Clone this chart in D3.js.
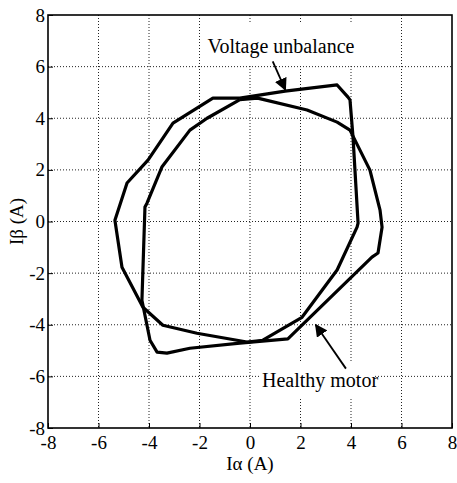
<!DOCTYPE html>
<html>
<head>
<meta charset="utf-8">
<script src="https://cdn.jsdelivr.net/npm/d3@7"></script>
<style>
  body { margin: 0; background: #fff; }
</style>
</head>
<body>
<script>
const width = 457;
const height = 483;
const serif = '"Liberation Serif", "Times New Roman", serif';

// ticks
const xTicks = [-8, -6, -4, -2, 0, 2, 4, 6, 8];
const yTicks = [-8, -6, -4, -2, 0, 2, 4, 6, 8];

// healthy motor trajectory (I alpha, I beta)
const healthyA = [-0.4, 0.3, 2.26, 3.45, 3.96, 4.75, 5.15, 5.23, 5.07, 4.83, 1.5, -0.4, -2.38, -3.29, -3.68, -3.96, -4.28, -4.16, -4.08, -3.49, -2.38, -1.7, -0.4];
const healthyB = [4.72, 4.78, 4.32, 3.85, 3.54, 1.99, 0.44, -0.22, -1.22, -1.38, -4.55, -4.71, -4.91, -5.1, -5.06, -4.6, -3.05, 0.56, 0.71, 2.11, 3.54, 4.0, 4.72];

// voltage unbalance trajectory
const unbalA = [-0.4, 1.39, 3.45, 3.88, 3.96, 4.08, 4.28, 4.24, 3.45, 2.06, 0.51, -0.12, -2.1, -3.45, -4.24, -5.07, -5.35, -4.87, -4.04, -3.05, -1.47, -0.4];
const unbalB = [4.78, 5.05, 5.29, 4.82, 4.71, 3.27, -0.06, -0.22, -1.88, -3.71, -4.6, -4.67, -4.33, -4.02, -3.32, -1.77, 0.05, 1.49, 2.38, 3.81, 4.78, 4.78];

const plotL = 48, plotR = 452, plotT = 15, plotB = 428;

const x = d3.scaleLinear().domain([-8, 8]).range([plotL, plotR]);
const y = d3.scaleLinear().domain([-8, 8]).range([plotB, plotT]);

const svg = d3.select('body')
  .append('svg')
  .attr('width', width)
  .attr('height', height);

// grid
const grid = svg.append('g');
grid.selectAll('.gx')
  .data(xTicks.slice(1, -1))
  .enter().append('line')
  .attr('x1', d => x(d)).attr('x2', d => x(d))
  .attr('y1', plotT).attr('y2', plotB)
  .attr('stroke', '#222').attr('stroke-width', 1)
  .attr('stroke-dasharray', '1,2');
grid.selectAll('.gy')
  .data(yTicks.slice(1, -1))
  .enter().append('line')
  .attr('y1', d => y(d)).attr('y2', d => y(d))
  .attr('x1', plotL).attr('x2', plotR)
  .attr('stroke', '#222').attr('stroke-width', 1)
  .attr('stroke-dasharray', '1,2');

// axes with inward ticks
const xAxis = d3.axisBottom(x).tickValues(xTicks).tickSize(-5).tickPadding(8).tickFormat(d => String(d));
const yAxis = d3.axisLeft(y).tickValues(yTicks).tickSize(-5).tickPadding(3).tickFormat(d => String(d));

svg.append('g')
  .attr('transform', `translate(0,${plotB})`)
  .call(xAxis)
  .call(g => g.select('.domain').remove())
  .call(g => g.selectAll('line').attr('stroke', '#000'))
  .call(g => g.selectAll('text').style('font-size', '19px').style('font-family', serif).attr('fill', '#000'));

svg.append('g')
  .attr('transform', `translate(${plotL},0)`)
  .call(yAxis)
  .call(g => g.select('.domain').remove())
  .call(g => g.selectAll('line').attr('stroke', '#000'))
  .call(g => g.selectAll('text').style('font-size', '19px').style('font-family', serif).attr('fill', '#000'));

// frame
svg.append('rect')
  .attr('x', plotL).attr('y', plotT)
  .attr('width', plotR - plotL).attr('height', plotB - plotT)
  .attr('fill', 'none').attr('stroke', '#000').attr('stroke-width', 1.6);

// trajectories
const line = d3.line()
  .x(d => x(d[0]))
  .y(d => y(d[1]))
  .curve(d3.curveLinear);

const curves = [
  d3.zip(healthyA, healthyB),
  d3.zip(unbalA, unbalB)
];

svg.selectAll('.traj')
  .data(curves)
  .enter().append('path')
  .attr('class', 'traj')
  .attr('d', line)
  .attr('fill', 'none')
  .attr('stroke', '#000')
  .attr('stroke-width', 3.2)
  .attr('stroke-linejoin', 'round');

// annotations
svg.append('defs').append('marker')
  .attr('id', 'head')
  .attr('viewBox', '0 0 10 10')
  .attr('refX', 9).attr('refY', 5)
  .attr('markerWidth', 7).attr('markerHeight', 7)
  .attr('orient', 'auto')
  .append('path')
  .attr('d', 'M0,0L10,5L0,10z')
  .attr('fill', '#000');

function label(txt, cx, cy, bx, by, bw, bh) {
  svg.append('rect')
    .attr('x', bx).attr('y', by).attr('width', bw).attr('height', bh)
    .attr('fill', '#fff');
  svg.append('text')
    .attr('x', cx).attr('y', cy)
    .attr('text-anchor', 'middle')
    .style('font-family', serif)
    .style('font-size', '20px')
    .text(txt);
}

label('Voltage unbalance', 281, 53, 201, 24, 172, 42);
label('Healthy motor', 320, 387, 259, 362, 114, 35);

svg.append('line')
  .attr('x1', x(0.9)).attr('y1', y(6.2))
  .attr('x2', x(1.4)).attr('y2', y(5.1))
  .attr('stroke', '#000').attr('stroke-width', 1.8)
  .attr('marker-end', 'url(#head)');

svg.append('line')
  .attr('x1', x(3.8)).attr('y1', y(-5.7))
  .attr('x2', x(2.6)).attr('y2', y(-4.0))
  .attr('stroke', '#000').attr('stroke-width', 1.8)
  .attr('marker-end', 'url(#head)');

// axis labels
svg.append('text')
  .attr('x', x(0)).attr('y', 470)
  .attr('text-anchor', 'middle')
  .style('font-family', serif)
  .style('font-size', '19px')
  .text('Iα (A)');

svg.append('text')
  .attr('transform', `translate(23,${y(0)}) rotate(-90)`)
  .attr('text-anchor', 'middle')
  .style('font-family', serif)
  .style('font-size', '19px')
  .text('Iβ (A)');
</script>
</body>
</html>
